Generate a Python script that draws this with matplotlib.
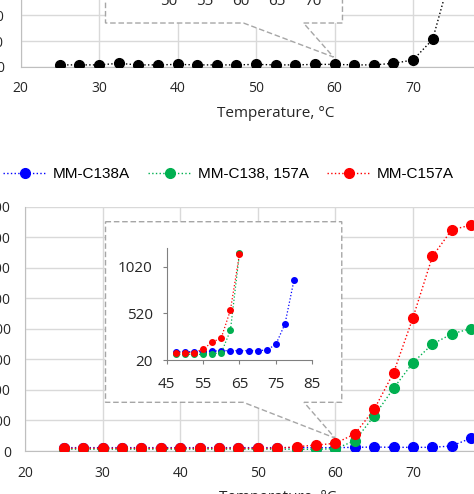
import numpy as np
import matplotlib.pyplot as plt
from matplotlib.patches import Polygon

plt.rcParams['font.family'] = ['Open Sans', 'DejaVu Sans']

W, H = 474, 494

# upper panel (only its lower strip is visible)
temp_top = [25, 27.5, 30, 32.5, 35, 37.5, 40, 42.5, 45, 47.5, 50, 52.5,
            55, 57.5, 60, 62.5, 65, 67.5, 70, 72.5, 75, 77.5]
black = [7, 7, 7, 13, 7, 7, 9, 7, 7, 7, 9, 7,
         7, 9, 9, 7, 7, 13, 26, 106, 380, 800]
top_inset_ticks = [50, 55, 60, 65, 70]

# lower panel
temp = [25, 27.5, 30, 32.5, 35, 37.5, 40, 42.5, 45, 47.5, 50, 52.5,
        55, 57.5, 60, 62.5, 65, 67.5, 70, 72.5, 75, 77.5]
c138 = [22, 22, 22, 22, 22, 22, 22, 22, 22, 22, 22, 22,
        22, 22, 22, 24, 26, 24, 24, 24, 33, 85]
c138_157 = [12, 12, 12, 12, 12, 12, 12, 12, 12, 12, 12, 12,
            11, 11, 15, 67, 230, 411, 579, 700, 767, 802]
c157 = [18, 18, 18, 18, 18, 18, 18, 18, 18, 18, 18, 18,
        28, 39, 50, 112, 273, 513, 874, 1274, 1449, 1480]

# inset of lower panel
in_t_blue = [47.5, 50, 52.5, 55, 57.5, 60, 62.5, 65, 67.5, 70, 72.5, 75, 77.5, 80]
in_blue = [109, 109, 109, 109, 115, 120, 120, 120, 120, 120, 127, 188, 409, 884]
in_t_rg = [47.5, 50, 52.5, 55, 57.5, 60, 62.5, 65]
in_green = [81, 81, 81, 81, 88, 98, 338, 1169]
in_red = [98, 98, 100, 138, 210, 259, 555, 1160]

labels = ['MM-C138A', 'MM-C138, 157A', 'MM-C157A']
colors = ['#0000ff', '#00b050', '#ff0000']

GRID = '#d9d9d9'
TXT = '#262626'


def px_axes(x0, ybot, w, h):
    return fig.add_axes([x0 / W, 1 - ybot / H, w / W, h / H])


def callout(ax, x0, x1, y0, y1, g0, g1, tip):
    pts = [(x0, y1), (x1, y1), (x1, y0), (g1, y0), tip, (g0, y0), (x0, y0)]
    ax.add_patch(Polygon(pts, closed=True, transform=ax.transAxes,
                         facecolor='white', edgecolor='#a6a6a6',
                         linestyle=(0, (4, 2)), linewidth=1, zorder=1,
                         clip_on=False))


def style_main(ax, ymax, ystep, pad):
    ax.set_xlim(20, 85)
    ax.set_ylim(0, ymax)
    ax.set_xticks(np.arange(20, 90, 10))
    ax.set_yticks(np.arange(0, ymax + 1, ystep))
    ax.set_axisbelow(True)
    ax.grid(True, color=GRID, linewidth=1)
    for s in ['top', 'right']:
        ax.spines[s].set_visible(False)
    for s in ['left', 'bottom']:
        ax.spines[s].set_color('#bfbfbf')
    ax.tick_params(length=0, labelsize=10, colors=TXT)
    ax.tick_params(axis='y', pad=pad)
    ax.tick_params(axis='x', pad=10.5)


fig = plt.figure(figsize=(W / 100, H / 100), dpi=100)

# ---- upper panel
ax1 = px_axes(20.5, 66.7, 510.25, 205.6)
style_main(ax1, 800, 100, 12)
ax1.plot(temp_top, black, ':', color='black', marker='o', markersize=7,
         linewidth=1, zorder=3)
callout(ax1, 0.1666, 0.631, 0.2125, 0.6, 0.437, 0.5546, (0.6134, 0.047))
ax1.set_xlabel('Temperature, °C', fontsize=11, color=TXT)
ax1.xaxis.set_label_coords(0.5, -39 / 205.6)

ax1i = px_axes(168.3, -12, 145, 20)
ax1i.set_xlim(50, 70)
ax1i.set_xticks(top_inset_ticks)
ax1i.set_yticks([])
ax1i.patch.set_visible(False)
for s in ax1i.spines.values():
    s.set_visible(False)
ax1i.tick_params(length=0, labelsize=11, colors=TXT, pad=4)

# ---- lower panel
ax2 = px_axes(25, 451, 504.4, 244.3)
style_main(ax2, 1600, 200, 10)
for y, c, lab in zip([c138, c138_157, c157], colors, labels):
    ax2.plot(temp, y, ':', color=c, marker='o', markersize=7,
             linewidth=1, label=lab, zorder=3)
callout(ax2, 0.1596, 0.628, 0.1993, 0.9386, 0.4328, 0.5531, (0.6146, 0.053))
ax2.set_xlabel('Temperature, °C', fontsize=11, color=TXT)
ax2.xaxis.set_label_coords(0.5, -39 / 244.3)

ax2i = px_axes(166.7, 360, 145.6, 111.7)
ax2i.set_xlim(45, 85)
ax2i.set_ylim(20, 1220)
ax2i.set_xticks(np.arange(45, 90, 10))
ax2i.set_yticks([20, 520, 1020])
ax2i.patch.set_visible(False)
for s in ['top', 'right']:
    ax2i.spines[s].set_visible(False)
for s in ['left', 'bottom']:
    ax2i.spines[s].set_color('#808080')
ax2i.tick_params(direction='out', length=3, color='#808080',
                 labelsize=11, labelcolor=TXT, pad=7)
ax2i.tick_params(axis='x', pad=9)
ax2i.plot(in_t_blue, in_blue, ':', color=colors[0], marker='o',
          markersize=4, linewidth=0.9, clip_on=False)
ax2i.plot(in_t_rg, in_green, ':', color=colors[1], marker='o',
          markersize=4, linewidth=0.9, clip_on=False)
ax2i.plot(in_t_rg, in_red, ':', color=colors[2], marker='o',
          markersize=4, linewidth=0.9, clip_on=False)

handles, labs = ax2.get_legend_handles_labels()
fig.legend(handles, labs, loc='center left', bbox_to_anchor=(3 / W, 1 - 174 / H),
           ncol=3, frameon=False, handlelength=2.9, handletextpad=0.35,
           columnspacing=1.2, borderpad=0, borderaxespad=0, numpoints=1,
           prop={'family': 'Liberation Sans', 'size': 11})

fig.savefig('out.png', dpi=100)
